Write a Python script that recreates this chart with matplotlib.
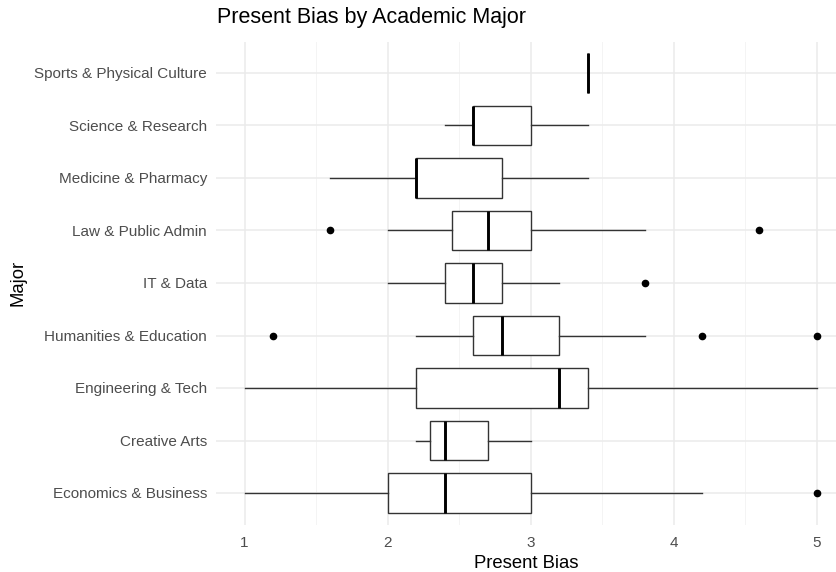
import numpy as np
import matplotlib.pyplot as plt
from matplotlib.ticker import MultipleLocator

plt.rcParams['font.family'] = ['Liberation Sans', 'DejaVu Sans']

majors = ['Economics & Business', 'Creative Arts', 'Engineering & Tech',
          'Humanities & Education', 'IT & Data', 'Law & Public Admin',
          'Medicine & Pharmacy', 'Science & Research', 'Sports & Physical Culture']
whisker_lo = [1.0, 2.2, 1.0, 2.2, 2.0, 2.0, 1.6, 2.4, 3.4]
q1 = [2.0, 2.3, 2.2, 2.6, 2.4, 2.45, 2.2, 2.6, 3.4]
median = [2.4, 2.4, 3.2, 2.8, 2.6, 2.7, 2.2, 2.6, 3.4]
q3 = [3.0, 2.7, 3.4, 3.2, 2.8, 3.0, 2.8, 3.0, 3.4]
whisker_hi = [4.2, 3.0, 5.0, 3.8, 3.2, 3.8, 3.4, 3.4, 3.4]
outliers = [[5.0], [], [], [1.2, 4.2, 5.0], [3.8], [1.6, 4.6], [], [], []]

stats = []
for i, m in enumerate(majors):
    stats.append({'label': m, 'whislo': whisker_lo[i], 'q1': q1[i], 'med': median[i],
                  'q3': q3[i], 'whishi': whisker_hi[i], 'fliers': outliers[i]})

fig = plt.figure(figsize=(8.37, 5.72), dpi=100)
ax = fig.add_axes([216 / 837, 1 - 524.5 / 572, 1 - 216 / 837, (524.5 - 41.5) / 572])

line = '#333333'
pos = np.arange(1, len(majors) + 1)
ax.bxp(stats, positions=pos, orientation='horizontal', widths=0.75,
       showcaps=False, patch_artist=True,
       boxprops=dict(facecolor='white', edgecolor=line, linewidth=1.0),
       whiskerprops=dict(color=line, linewidth=1.0),
       medianprops=dict(color='black', linewidth=2.1, solid_capstyle='butt'),
       flierprops=dict(marker='o', markerfacecolor='black', markeredgecolor='black',
                       markersize=4.5))

ax.set_xlim(0.8, 0.8 + (837 - 216) / 143)
ax.set_ylim(0.4, len(majors) + 0.6)
ax.set_xticks([1, 2, 3, 4, 5])
ax.xaxis.set_minor_locator(MultipleLocator(0.5))
ax.set_axisbelow(True)
ax.grid(which='major', color='#EBEBEB', linewidth=1.1)
ax.grid(which='minor', axis='x', color='#F2F2F2', linewidth=0.6)
for s in ax.spines.values():
    s.set_visible(False)
ax.tick_params(which='both', length=0)
ax.tick_params(axis='both', labelsize=11, labelcolor='#4D4D4D')
ax.tick_params(axis='y', pad=6.5)
ax.tick_params(axis='x', pad=8)

ax.set_xlabel('Present Bias', fontsize=13.3, va='center')
ax.xaxis.set_label_coords(0.5, (524.5 - 563) / 483)
ax.set_ylabel('Major', fontsize=13.3, va='center')
ax.yaxis.set_label_coords((18 - 216) / 621, 0.5)
fig.text(217 / 837, 1 - 18 / 572, 'Present Bias by Academic Major',
         fontsize=15.5, ha='left', va='center')

fig.savefig('out.png', dpi=100)
